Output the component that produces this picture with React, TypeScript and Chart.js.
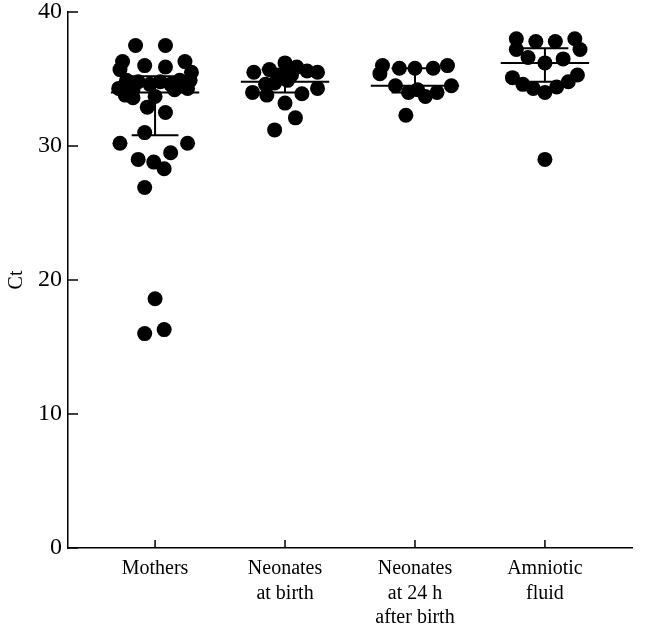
import React, { useEffect, useRef } from "react";
import { Chart, registerables } from "chart.js";

Chart.register(...registerables);

// Categories (x tick labels, multi-line)
const categoryLabels: string[][] = [
  ["Mothers"],
  ["Neonates", "at birth"],
  ["Neonates", "at 24 h", "after birth"],
  ["Amniotic", "fluid"],
];

// Y ticks
const yTicks = [0, 10, 20, 30, 40];

// Mothers: Ct values and horizontal jitter (offset from category centre)
const mothersCt = [
  37.5, 37.5, 36.3, 36.0, 35.9, 36.3, 35.7, 35.5, 34.9, 34.8, 34.6, 34.8, 34.6,
  34.9, 34.9, 34.3, 34.2, 34.2, 34.3, 33.8, 33.6, 32.9, 32.5, 33.7, 31.0, 30.2,
  30.2, 29.0, 28.8, 29.5, 28.3, 26.9, 18.6, 16.0, 16.3,
];
const mothersJitter = [
  -0.15, 0.08, -0.25, -0.08, 0.08, 0.23, -0.27, 0.28, -0.22, -0.13, -0.04, 0.04,
  0.12, 0.19, 0.27, -0.28, -0.17, 0.15, 0.25, -0.23, -0.17, -0.06, 0.08, 0.0,
  -0.08, -0.27, 0.25, -0.13, -0.01, 0.12, 0.07, -0.08, 0.0, -0.08, 0.07,
];

// Neonates at birth
const birthCt = [
  35.5, 35.7, 36.2, 35.9, 35.6, 35.5, 35.3, 35.3, 34.7, 34.9, 34.0, 33.8, 33.9,
  34.3, 33.2, 32.1, 31.2, 34.6,
];
const birthJitter = [
  -0.24, -0.12, 0.0, 0.09, 0.17, 0.25, -0.05, 0.05, -0.08, 0.02, -0.25, -0.14,
  0.13, 0.25, 0.0, 0.08, -0.08, -0.15,
];

// Neonates at 24 h after birth
const h24Ct = [36.0, 35.4, 35.8, 35.8, 35.8, 36.0, 34.5, 34.0, 33.7, 34.0, 34.5, 34.2, 32.3];
const h24Jitter = [-0.25, -0.27, -0.12, 0.0, 0.14, 0.25, -0.15, -0.05, 0.08, 0.17, 0.28, 0.02, -0.07];

// Amniotic fluid
const amnioticCt = [
  38.0, 37.2, 37.8, 37.8, 38.0, 37.2, 36.6, 36.2, 36.5, 35.1, 34.6, 34.3, 34.0,
  34.4, 34.8, 35.3, 29.0,
];
const amnioticJitter = [
  -0.22, -0.22, -0.07, 0.08, 0.23, 0.27, -0.13, 0.0, 0.14, -0.25, -0.17, -0.09,
  0.0, 0.09, 0.18, 0.25, 0.0,
];

// Summary statistics (median with interquartile range)
const medians = [34.0, 34.8, 34.5, 36.2];
const q1 = [30.8, 34.0, 34.0, 34.8];
const q3 = [35.2, 35.7, 35.8, 37.3];

const FONT = "'Liberation Serif', 'Times New Roman', serif";

const groups = [
  { ct: mothersCt, jit: mothersJitter },
  { ct: birthCt, jit: birthJitter },
  { ct: h24Ct, jit: h24Jitter },
  { ct: amnioticCt, jit: amnioticJitter },
];

// Inward tick marks on both axes
const inwardTicksPlugin = {
  id: "inwardTicks",
  afterDraw(chart: any) {
    const { ctx, scales, chartArea } = chart;
    const x = scales.x;
    const y = scales.y;
    ctx.save();
    ctx.strokeStyle = "#000";
    ctx.lineWidth = 1.5;
    x.ticks.forEach((t: any) => {
      const px = x.getPixelForValue(t.value);
      ctx.beginPath();
      ctx.moveTo(px, chartArea.bottom);
      ctx.lineTo(px, chartArea.bottom - 8);
      ctx.stroke();
    });
    y.ticks.forEach((t: any) => {
      const py = y.getPixelForValue(t.value);
      ctx.beginPath();
      ctx.moveTo(chartArea.left, py);
      ctx.lineTo(chartArea.left + 10, py);
      ctx.stroke();
    });
    ctx.restore();
  },
};

const statsPlugin = {
  id: "medianIqr",
  afterDatasetsDraw(chart: any) {
    const { ctx, scales } = chart;
    const x = scales.x;
    const y = scales.y;
    ctx.save();
    ctx.strokeStyle = "#000";
    ctx.lineWidth = 2;
    const hline = (c: number, v: number, hw: number) => {
      ctx.beginPath();
      ctx.moveTo(x.getPixelForValue(c - hw), y.getPixelForValue(v));
      ctx.lineTo(x.getPixelForValue(c + hw), y.getPixelForValue(v));
      ctx.stroke();
    };
    medians.forEach((m, i) => {
      const c = i + 1;
      hline(c, m, 0.34);
      hline(c, q1[i], 0.18);
      hline(c, q3[i], 0.18);
      ctx.beginPath();
      ctx.moveTo(x.getPixelForValue(c), y.getPixelForValue(q1[i]));
      ctx.lineTo(x.getPixelForValue(c), y.getPixelForValue(q3[i]));
      ctx.stroke();
    });
    ctx.restore();
  },
};

export default function App() {
  const canvasRef = useRef<HTMLCanvasElement | null>(null);

  useEffect(() => {
    if (!canvasRef.current) return;
    const datasets = groups.map((g, gi) => ({
      label: categoryLabels[gi].join(" "),
      data: g.ct.map((v, i) => ({ x: gi + 1 + g.jit[i], y: v })),
      backgroundColor: "#000",
      borderColor: "#000",
      pointRadius: 7.5,
      pointHoverRadius: 7.5,
      borderWidth: 0,
    }));

    const chart = new Chart(canvasRef.current, {
      type: "scatter",
      data: { datasets },
      plugins: [statsPlugin, inwardTicksPlugin],
      options: {
        animation: false,
        responsive: false,
        devicePixelRatio: 1,
        layout: { padding: { top: 12, right: 20, left: 0, bottom: 0 } },
        plugins: {
          legend: { display: false },
          tooltip: { enabled: false },
        },
        scales: {
          x: {
            type: "linear",
            position: "bottom",
            min: 0.33,
            max: 4.67,
            afterFit: (s: any) => {
              s.height = 77;
              s.paddingLeft = 0;
              s.paddingRight = 0;
            },
            afterBuildTicks: (s: any) => {
              s.ticks = categoryLabels.map((_, i) => ({ value: i + 1 }));
            },
            ticks: {
              autoSkip: false,
              maxRotation: 0,
              minRotation: 0,
              color: "#000",
              padding: 9,
              font: { family: FONT, size: 20, lineHeight: 1.22 },
              callback: (v: any) => categoryLabels[Math.round(Number(v)) - 1] ?? "",
            },
            grid: {
              drawOnChartArea: false,
              drawTicks: false,
            },
            border: { display: true, color: "#000", width: 1.5 },
          },
          y: {
            type: "linear",
            min: 0,
            max: 40,
            afterFit: (s: any) => {
              s.width = 68;
              s.paddingTop = 0;
              s.paddingBottom = 0;
            },
            afterBuildTicks: (s: any) => {
              s.ticks = yTicks.map((v) => ({ value: v }));
            },
            ticks: {
              color: "#000",
              padding: 6,
              font: { family: FONT, size: 24, lineHeight: 1 },
            },
            title: {
              display: true,
              text: "Ct",
              color: "#000",
              font: { family: FONT, size: 20 },
              padding: { top: 5, bottom: 0 },
            },
            grid: {
              drawOnChartArea: false,
              drawTicks: false,
            },
            border: { display: true, color: "#000", width: 1.5 },
          },
        },
      },
    } as any);

    return () => {
      chart.destroy();
    };
  }, []);

  return (
    <div style={{ position: "absolute", left: 0, top: 0, width: 652, height: 625, background: "#fff" }}>
      <canvas ref={canvasRef} width={652} height={625} />
    </div>
  );
}
